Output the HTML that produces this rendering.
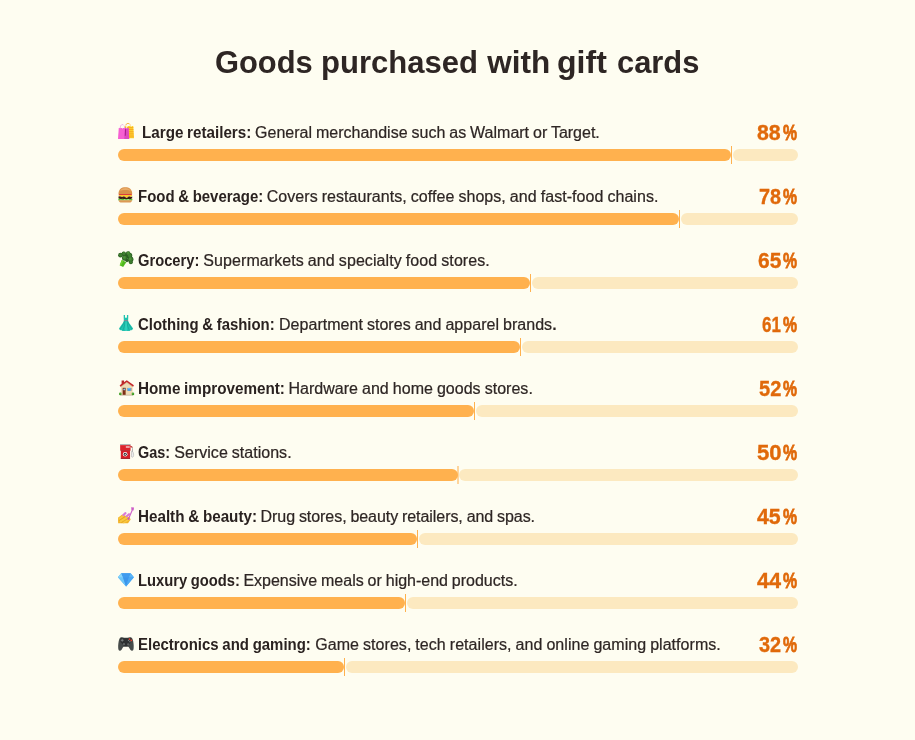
<!DOCTYPE html>
<html lang="en">
<head>
<meta charset="utf-8">
<title>Goods purchased with gift cards</title>
<style>
html,body{margin:0;padding:0;}
body{width:915px;height:740px;background:#fefdf1;overflow:hidden;position:relative;font-family:"Liberation Sans",sans-serif;color:#2b2422;}
h1{position:absolute;left:0;top:42px;width:915px;height:40px;margin:0;font-size:31.5px;line-height:40px;font-weight:700;color:#2e2624;white-space:nowrap;}
h1 span{position:absolute;top:0;transform-origin:0 0;}
.row{position:absolute;left:118px;width:680px;height:64px;}
.lbl{position:absolute;left:0;top:1px;width:640px;height:20px;font-size:16px;line-height:20px;white-space:nowrap;color:#2e2624;word-spacing:-0.5px;-webkit-text-stroke:0.22px #2e2624;}
.lbl b{font-weight:700;color:#2a2220;-webkit-text-stroke:0;}
.lbl .k,.lbl .d{position:absolute;top:0;transform-origin:0 0;}
.pct{position:absolute;left:620px;top:-0.6px;width:60px;height:24px;font-size:22px;line-height:24px;font-weight:700;color:#e0690a;white-space:nowrap;}
.pct span{position:absolute;top:0;transform-origin:0 0;-webkit-text-stroke:0.35px #e0690a;}
.pct span+span{-webkit-text-stroke:0.8px #e0690a;}
.track{position:absolute;right:0;top:27px;height:12px;border-radius:6px;background:#fce9c0;}
.fill{position:absolute;left:0;top:27px;height:12px;border-radius:6px;background:#ffb14e;}
.mark{position:absolute;top:24px;width:1px;height:18px;background:#ffb14e;}
.ico{position:absolute;left:0;top:1px;width:17px;height:17px;overflow:visible;}
</style>
</head>
<body>
<h1><span style="left:215.0px;transform:scaleX(0.9800)">Goods</span> <span style="left:320.5px;transform:scaleX(0.9850)">purchased</span> <span style="left:487.3px;transform:scaleX(1.0000)">with</span> <span style="left:557.3px;transform:scaleX(1.0170)">gift</span> <span style="left:617.0px;transform:scaleX(0.9800)">cards</span></h1>
<div class="row" style="top:122px">
  <svg class="ico" style="left:0;top:0.8px;width:16px;height:16px" viewBox="0 0 32 32" preserveAspectRatio="none">
  <!-- shopping bags -->
  <path d="M15 7 C15 -1.200,25 -1.200,25 7" fill="none" stroke="#f5a623" stroke-width="1.700"/>
  <path d="M13.500 6 L30.500 6 L32 30.400 L14 30.400 Z" fill="#fdd62e"/>
  <g stroke="#f5a01f" stroke-width="1.700"><path d="M13.500 9.300H30.700M13.500 13H30.900M13.500 16.700H31.100M13.500 20.400H31.400M13.500 24.100H31.600M13.500 27.800H31.800"/></g>
  <path d="M18.500 8 C18.500 1.500,26.500 1.500,26.500 8" fill="none" stroke="#fff8ea" stroke-width="1.500"/>
  <path d="M1.500 10 L21 10 L22.400 32 L0 32 Z" fill="#f65fd2"/>
  <path d="M13.700 10 L21 10 L22.400 32 L12.500 32 Z" fill="#dc48c0"/>
  <path d="M14 12.600 H15.800 L15.400 25.500 H13.600 Z" fill="#a51582"/>
  <path d="M4.300 11 C4.300 0.500,13.400 0.500,13.400 11" fill="none" stroke="#eaa0e6" stroke-width="1.700"/>
  <path d="M9 11 C9 2,17.500 2,17.500 11" fill="none" stroke="#fff8ea" stroke-width="1.700"/>
</svg>
  <div class="lbl"><b class="k" style="left:24.00px;transform:scaleX(0.9490)">Large retailers:</b> <span class="d" style="left:137.10px;letter-spacing:-0.000px">General merchandise such as Walmart or Target.</span></div>
  <div class="pct"><span style="left:18.80px;transform:scaleX(0.9690)">88</span><span style="left:44.50px;transform:scaleX(0.7170)">%</span></div>
  <div class="fill" style="width:613px"></div><div class="mark" style="left:613px"></div><div class="track" style="left:615px"></div>
</div>
<div class="row" style="top:186px">
  <svg class="ico" style="left:0.35px;top:1px;width:14.7px;height:15.75px" viewBox="0 0 32 32" preserveAspectRatio="none">
  <!-- burger -->
  <path d="M1 14.500 C1 4,8 0.500,16 0.500 C24 0.500,31 4,31 14.500 Z" fill="#d9914a"/>
  <path d="M4 9 C6 4,11 2,16 2 C21 2,26 4,28 9 C24 5,8 5,4 9Z" fill="#e9ab66"/>
  <rect x="1.500" y="14" width="29" height="3" rx="1.500" fill="#dc3b3f"/>
  <path d="M0.500 16.300 H31.500 L28 20.500 L24 19 L19 22.500 L13 19 L9 20.500 L4 19 Z" fill="#ffc928"/>
  <path d="M1 19.500 L4 19 L9 20.500 L13 19 L19 22.500 L24 19 L28 20.500 L31 19.500 C31.500 22,30 24.500,28 24.500 H4 C2 24.500,0.500 22,1 19.500Z" fill="#3f1d14"/>
  <path d="M0.300 23.500 C3 22.500,5 26,8 24.500 C11 23,13 26.500,16 25 C19 23.500,21 26.500,24 25 C27 23.500,29 25.500,31.700 23.500 L31 27.500 H1 Z" fill="#62c43a"/>
  <path d="M1.500 26.800 H30.500 C30.500 30,28 31.500,24 31.500 H8 C4 31.500,1.500 30,1.500 26.800Z" fill="#dc9a55"/>
</svg>
  <div class="lbl"><b class="k" style="left:20.00px;transform:scaleX(0.9340)">Food &amp; beverage:</b> <span class="d" style="left:148.70px;letter-spacing:0.052px">Covers restaurants, coffee shops, and fast-food chains.</span></div>
  <div class="pct"><span style="left:20.90px;transform:scaleX(0.9010)">78</span><span style="left:44.50px;transform:scaleX(0.7170)">%</span></div>
  <div class="fill" style="width:561px"></div><div class="mark" style="left:561px"></div><div class="track" style="left:563px"></div>
</div>
<div class="row" style="top:250px">
  <svg class="ico" style="left:0;top:1px;width:16px;height:16px" viewBox="0 0 32 32" preserveAspectRatio="none">
  <!-- broccoli -->
  <path d="M7.600 18 L16.700 22.500 L10.200 31.900 L3.400 28.400 Z" fill="#4fb81f"/>
  <path d="M7.600 18 L11 19.700 L5.800 29.600 L3.400 28.400 Z" fill="#6fd030"/>
  <g fill="#2c5f22">
    <circle cx="5" cy="8.300" r="4.700"/><circle cx="11.500" cy="5.400" r="4.300"/><circle cx="20.300" cy="5.200" r="4.600"/>
    <circle cx="23.100" cy="8.900" r="5.400"/><circle cx="25.100" cy="16.700" r="5.800"/><circle cx="25.700" cy="22.500" r="3.900"/>
    <circle cx="17.900" cy="18.700" r="3.600"/><circle cx="13.400" cy="14.100" r="5.400"/><circle cx="16" cy="10" r="6"/>
  </g>
  <g fill="#3f7f30">
    <circle cx="5" cy="8" r="3.300"/><circle cx="11.800" cy="4.800" r="3.200"/><circle cx="20.800" cy="4.600" r="3.700"/>
    <circle cx="13.200" cy="13.600" r="4"/><circle cx="23.400" cy="9.200" r="3.600"/><circle cx="25" cy="16.400" r="4.300"/><circle cx="25.500" cy="22.300" r="2.500"/>
  </g>
  <g fill="#4d9238"><circle cx="12.600" cy="12.800" r="2.200"/><circle cx="24.300" cy="15.600" r="2.400"/><circle cx="20.300" cy="4" r="1.800"/></g>
</svg>
  <div class="lbl"><b class="k" style="left:20.00px;transform:scaleX(0.9190)">Grocery:</b> <span class="d" style="left:85.30px;letter-spacing:0.079px">Supermarkets and specialty food stores.</span></div>
  <div class="pct"><span style="left:19.90px;transform:scaleX(0.9520)">65</span><span style="left:44.50px;transform:scaleX(0.7170)">%</span></div>
  <div class="fill" style="width:412px"></div><div class="mark" style="left:412px"></div><div class="track" style="left:414px"></div>
</div>
<div class="row" style="top:314px">
  <svg class="ico" style="left:1.03px;top:0.92px;width:14.1px;height:16.05px" viewBox="0 0 28.2 32.1" preserveAspectRatio="none">
  <!-- dress -->
  <path d="M9.400 0 H12 V4 C12.500 6.500,15.400 6.500,15.900 4 V0 H18.500 V5.500 L18.200 10.600 H9.700 L9.400 5.500 Z" fill="#20c3b0"/>
  <path d="M9.700 12 H18.200 C20 17,25.500 22,28.200 27 C27 30,25 31,23 30.500 C21 32.500,17 32.500,14.100 31.500 C11 32.500,7 32.500,5 30.500 C3 31,1 30,0 27 C2.700 22,8 17,9.700 12Z" fill="#20c3b0"/>
  <path d="M12.500 12.500 C12 20,9.500 26,7.500 31 M15.700 12.500 C16.200 20,18.700 26,20.700 31 M11 12.500 C9 19,5 24,2 28.500 M17.200 12.500 C19.200 19,23.200 24,26.200 28.500" stroke="#16998b" stroke-width="1.100" fill="none"/>
  <path d="M14.100 12.500 V31" stroke="#45e3cc" stroke-width="2.400" fill="none" opacity=".7"/>
  <rect x="9.600" y="10.300" width="8.700" height="1.900" fill="#6f7c8d"/>
</svg>
  <div class="lbl"><b class="k" style="left:20.00px;transform:scaleX(0.9330)">Clothing &amp; fashion:</b> <span class="d" style="left:161.00px;letter-spacing:0.033px">Department stores and apparel brands<b>.</b></span></div>
  <div class="pct"><span style="left:23.90px;transform:scaleX(0.7710)">61</span><span style="left:44.50px;transform:scaleX(0.7170)">%</span></div>
  <div class="fill" style="width:402px"></div><div class="mark" style="left:402px"></div><div class="track" style="left:404px"></div>
</div>
<div class="row" style="top:378px">
  <svg class="ico" style="left:0.95px;top:1.9px;width:15.24px;height:15.57px" viewBox="0 0 30.5 31.1" preserveAspectRatio="none">
  <!-- house -->
  <rect x="5.200" y="1" width="4.900" height="8" fill="#b5282a"/>
  <path d="M3.600 12 L15.600 3 L27.200 12 V30.500 H3.600 Z" fill="#eedbb6"/>
  <path d="M3.600 12 L15.600 3 L27.200 12 V14.500 L15.600 5.800 L3.600 14.500Z" fill="#d9c096"/>
  <path d="M15.600 0.700 L29.800 10.700 L28.300 13.300 L15.600 4.200 L2.800 13.300 L1.300 10.700 Z" fill="#c4272b"/>
  <rect x="3" y="29.600" width="25" height="1.200" fill="#b3a58c"/>
  <rect x="7.300" y="15.600" width="6" height="14" fill="#7a2d17"/>
  <circle cx="10.500" cy="18.800" r="1.900" fill="#7ecbf8"/>
  <circle cx="12.200" cy="23.800" r="0.800" fill="#f0b030"/>
  <rect x="15.800" y="15.900" width="10.300" height="5.800" fill="#cdb38d"/>
  <rect x="17.200" y="15.900" width="6.300" height="5.800" fill="#3e9df0"/>
  <rect x="17.800" y="16.500" width="5.100" height="1.800" fill="#7cc3f7"/>
  <circle cx="2.600" cy="27.800" r="2.600" fill="#3f9a28"/><circle cx="27.900" cy="27.800" r="2.600" fill="#3f9a28"/>
  <circle cx="2.300" cy="27.200" r="1.300" fill="#63bd3f"/><circle cx="27.600" cy="27.200" r="1.300" fill="#63bd3f"/>
</svg>
  <div class="lbl"><b class="k" style="left:20.00px;transform:scaleX(0.9530)">Home improvement:</b> <span class="d" style="left:170.40px;letter-spacing:0.033px">Hardware and home goods stores.</span></div>
  <div class="pct"><span style="left:20.70px;transform:scaleX(0.9100)">52</span><span style="left:44.50px;transform:scaleX(0.7170)">%</span></div>
  <div class="fill" style="width:356px"></div><div class="mark" style="left:356px"></div><div class="track" style="left:358px"></div>
</div>
<div class="row" style="top:442px">
  <svg class="ico" style="left:2.16px;top:2.05px;width:13.8px;height:14.75px" viewBox="0 0 27.6 29.500" preserveAspectRatio="none">
  <!-- fuel pump -->
  <path d="M21 5 C24.300 5,25 6.500,25 9.500 V20" fill="none" stroke="#a9a9a9" stroke-width="1.800"/><path d="M21 5 C23 5,24 5.500,24.500 7" fill="none" stroke="#c4342f" stroke-width="2.200"/>
  <path d="M23.300 14 C23.300 14,26.800 15,27.200 20 C27.500 24.500,26.500 26.500,24.500 26.500 C22.800 26.500,22.600 24.500,23 22 Z" fill="#ededed" stroke="#9b9b9b" stroke-width="0.900"/>
  <rect x="0" y="0" width="21.400" height="2.800" rx="0.600" fill="#b5b5b5"/>
  <rect x="0.300" y="2.300" width="20.800" height="10.600" fill="#dc232c"/>
  <rect x="11.700" y="4.500" width="7.800" height="3" fill="#f3c4c5"/>
  <rect x="1.600" y="12.700" width="18.500" height="16.500" fill="#d31e28"/>
  <rect x="0.800" y="12.300" width="19.800" height="0.900" fill="#8d0f17"/>
  <rect x="1.600" y="28" width="18.500" height="1.500" fill="#8d0f17"/>
  <circle cx="10.400" cy="20.400" r="4.600" fill="#fff"/><circle cx="10.400" cy="20.400" r="3" fill="#151515"/>
  <path d="M10.400 18.300 L11.800 20.900 C11.800 22.600,9 22.600,9 20.900 Z" fill="#fff"/>
</svg>
  <div class="lbl"><b class="k" style="left:20.00px;transform:scaleX(0.9000)">Gas:</b> <span class="d" style="left:56.30px;letter-spacing:0.025px">Service stations.</span></div>
  <div class="pct"><span style="left:18.80px;transform:scaleX(1.0080)">50</span><span style="left:44.50px;transform:scaleX(0.7200)">%</span></div>
  <div class="mark" style="left:339px;width:2px;background:#ffd59c"></div><div class="fill" style="width:340px"></div><div class="track" style="left:341px"></div>
</div>
<div class="row" style="top:506px">
  <svg class="ico" style="left:-0.1px;top:0.76px;width:16.2px;height:16.4px" viewBox="0 0 32.4 32.800" preserveAspectRatio="none">
  <!-- nail polish -->
  <path d="M0 21.700 L8.400 15.200 L23.300 20.400 L25.300 25 L20.100 32.400 H0.300 Z" fill="#f3b229"/>
  <g stroke="#f9c840" stroke-width="4.200" stroke-linecap="round"><path d="M2.500 23.500 L11 17.500"/><path d="M5 28.500 L18 20.500"/><path d="M11 30.500 L22 24"/></g>
  <g stroke="#d4931a" stroke-width="1" fill="none"><path d="M2 27.300 L14.500 19.300"/><path d="M7 31.300 L20.500 22.800"/></g>
  <g stroke="#d97bd8" stroke-width="4.300" stroke-linecap="round"><path d="M10.800 16 L15 12.300"/><path d="M17.300 18.600 L22 14.500"/></g>
  <path d="M21 24 L28.800 5.500" stroke="#d063c9" stroke-width="2.300" stroke-linecap="round"/>
  <circle cx="21" cy="23.600" r="2" fill="#c455c0"/>
  <path d="M26.300 0.300 L32.100 0.800 L31.300 6.800 L27 6 Z" fill="#cc5cc6"/>
</svg>
  <div class="lbl"><b class="k" style="left:20.00px;transform:scaleX(0.9500)">Health &amp; beauty:</b> <span class="d" style="left:142.60px;letter-spacing:-0.059px">Drug stores, beauty retailers, and spas.</span></div>
  <div class="pct"><span style="left:18.80px;transform:scaleX(0.9690)">45</span><span style="left:44.50px;transform:scaleX(0.7170)">%</span></div>
  <div class="fill" style="width:299px"></div><div class="mark" style="left:299px"></div><div class="track" style="left:301px"></div>
</div>
<div class="row" style="top:570px">
  <svg class="ico" style="left:0.22px;top:3px;width:15.9px;height:13.6px" viewBox="0 0 31.8 27.2" preserveAspectRatio="none">
  <!-- gem -->
  <path d="M6.500 0.500 H25.300 L31.800 8.400 L16.200 27.200 L0 8.400 Z" fill="#46a5f2"/>
  <path d="M6.500 0.500 L10 8.400 L16.200 27.200 L0 8.400Z" fill="#6ec6f9"/>
  <path d="M6.500 0.500 L10 8.400 H0Z" fill="#8ad5fb"/>
  <path d="M6.500 0.500 H25.300 L22 8.400 H10Z" fill="#3f9bee"/>
  <path d="M10 8.400 H22 L16.200 27.200Z" fill="#3b95eb"/>
  <path d="M25.300 0.500 L31.800 8.400 H22Z" fill="#5ab5f7"/>
  <path d="M22 8.400 H31.800 L16.200 27.200Z" fill="#4aa8f4"/>
</svg>
  <div class="lbl"><b class="k" style="left:20.00px;transform:scaleX(0.9220)">Luxury goods:</b> <span class="d" style="left:125.40px;letter-spacing:-0.011px">Expensive meals or high-end products.</span></div>
  <div class="pct"><span style="left:18.80px;transform:scaleX(0.9840)">44</span><span style="left:44.50px;transform:scaleX(0.7200)">%</span></div>
  <div class="fill" style="width:287px"></div><div class="mark" style="left:287px"></div><div class="track" style="left:289px"></div>
</div>
<div class="row" style="top:634px">
  <svg class="ico" style="left:0.05px;top:3.19px;width:15.9px;height:13.95px" viewBox="0 0 31.8 27.900" preserveAspectRatio="none">
  <!-- game controller -->
  <path d="M7 0.300 C4 0.300,2.500 3,1.500 8 C0.300 14,-0.300 22,1.200 26 C2.500 28.500,5.500 28,7.500 25 C9.500 21.500,10.500 19.100,13 19.100 H18.800 C21.300 19.100,22.300 21.500,24.300 25 C26.300 28,29.300 28.500,30.600 26 C32.100 22,31.500 14,30.300 8 C29.300 3,27.800 0.300,24.800 0.300 C22 0.300,21.500 1.300,15.900 1.300 C10.300 1.300,9.800 0.300,7 0.300Z" fill="#464b4a"/>
  <path d="M6 1.500 C10 2.800,21.800 2.800,25.800 1.500 C28.500 5,28 10,24 13 C21 15.500,20 19,18.800 19.100 H13 C11.800 19,10.800 15.500,7.800 13 C3.800 10,3.300 5,6 1.500Z" fill="#2d3031"/>
  <path d="M5.600 5.700 H7.600 V3.700 H9.200 V5.700 H11.200 V7.300 H9.200 V9.300 H7.600 V7.300 H5.600Z" fill="#7e8383"/>
  <circle cx="23" cy="4.200" r="1.800" fill="#ea412f"/><circle cx="26.600" cy="6.800" r="1.800" fill="#ea412f"/>
  <circle cx="21.100" cy="6.700" r="1.400" fill="#858a8a"/><circle cx="23.900" cy="9.300" r="1.400" fill="#858a8a"/>
  <circle cx="12" cy="14.300" r="2.300" fill="#5e6363"/><circle cx="20.400" cy="14.900" r="2.300" fill="#5e6363"/>
</svg>
  <div class="lbl"><b class="k" style="left:20.00px;transform:scaleX(0.9350)">Electronics and gaming:</b> <span class="d" style="left:197.30px;letter-spacing:0.046px">Game stores, tech retailers, and online gaming platforms.</span></div>
  <div class="pct"><span style="left:20.90px;transform:scaleX(0.9020)">32</span><span style="left:44.50px;transform:scaleX(0.7170)">%</span></div>
  <div class="fill" style="width:226px"></div><div class="mark" style="left:226px"></div><div class="track" style="left:228px"></div>
</div>
</body>
</html>
